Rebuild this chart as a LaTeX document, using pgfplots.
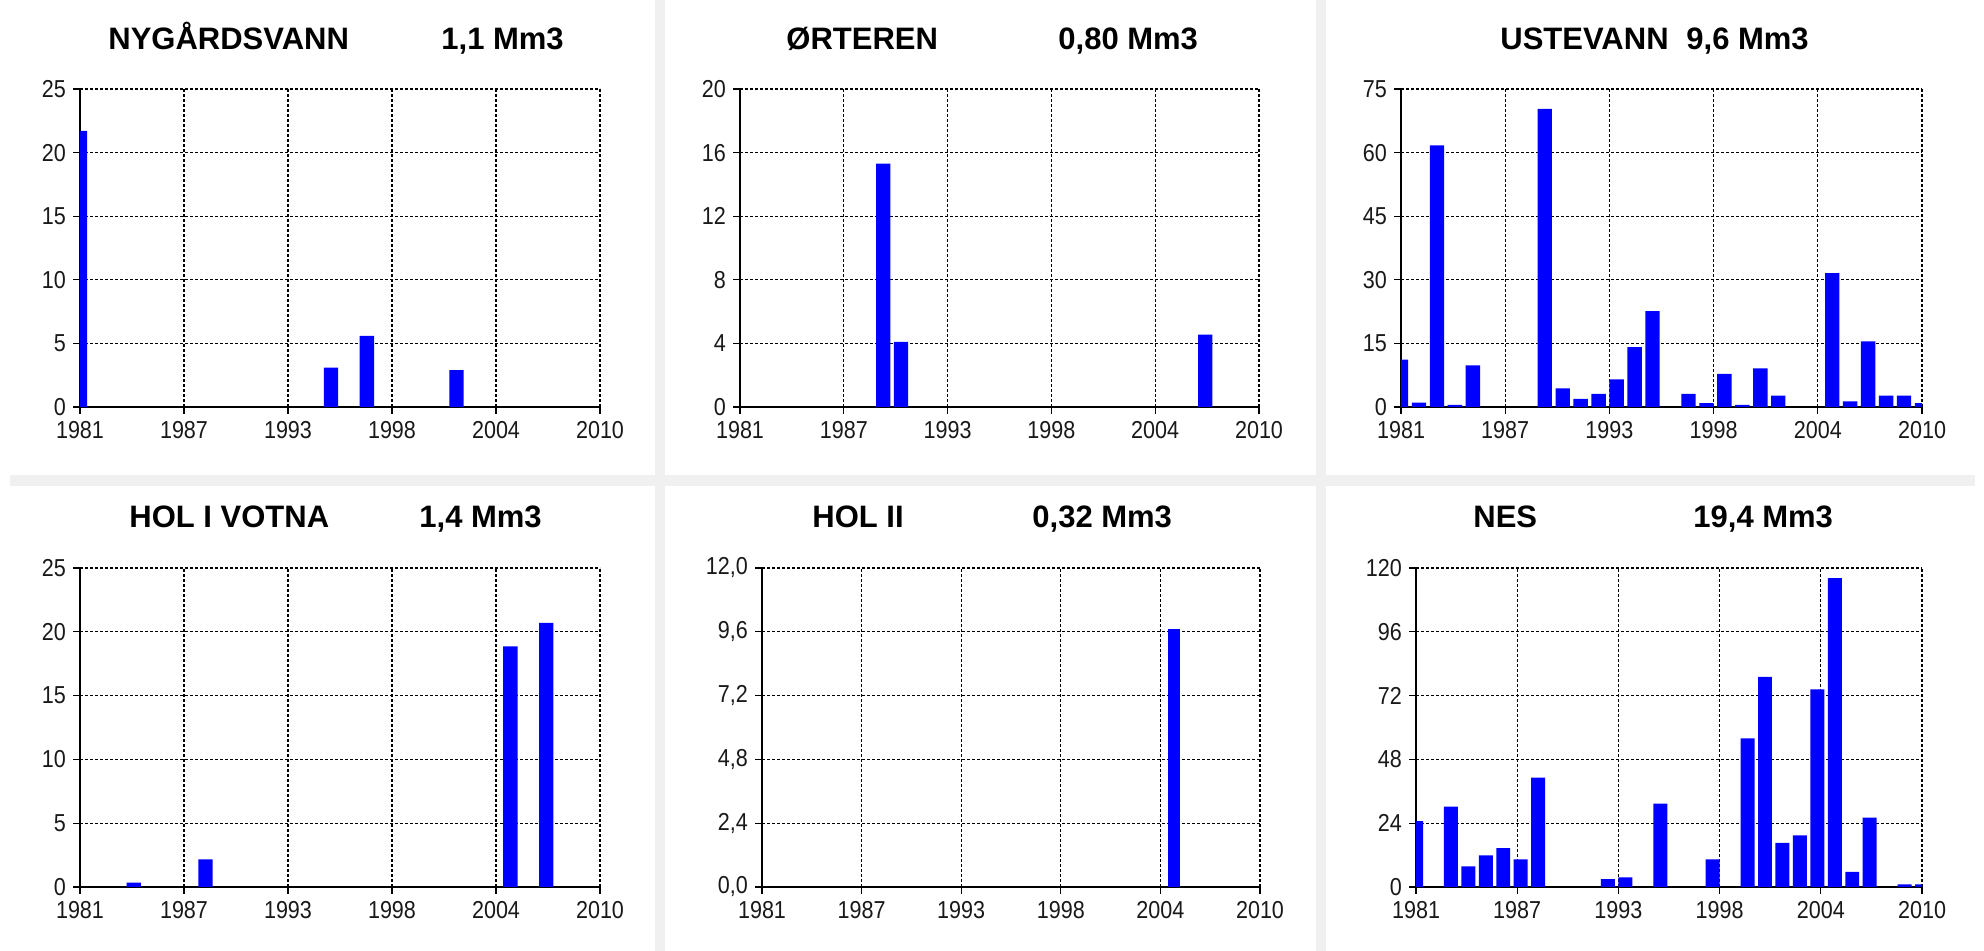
\documentclass[border=0pt]{standalone}
\usepackage{fontspec}
\setmainfont{Liberation Sans}
\newfontfamily\tickfont{Liberation Sans}[FakeStretch=0.88]
\usepackage{pgfplots}
\pgfplotsset{compat=1.18}
\definecolor{sepgray}{RGB}{240,240,240}
\definecolor{barblue}{RGB}{0,0,255}
\pgfplotsset{panel/.style={
  scale only axis, anchor=south west,
  xmin=1981, xmax=2010, ymin=0,
  axis lines=left, axis line style={-, black, line width=0.75pt},
  xtick={1981,1986.8,1992.6,1998.4,2004.2,2010},
  xticklabels={1981,1987,1993,1998,2004,2010},
  grid=major, major grid style={black, line width=0.65pt, dash pattern=on 1.7pt off 0.8pt},
  tick align=outside, major tick length=3.5pt, tick style={black, line width=0.65pt},
  ticklabel style={font=\tickfont\fontsize{12.25}{13}\selectfont, text=black!90},
  ybar, bar width=0.8,
}}
\newcommand\ttl[1]{{\bfseries\fontsize{15.5}{16}\selectfont #1}}
\begin{document}
\begin{tikzpicture}
\useasboundingbox (0,0) rectangle (992pt,475.5pt);
\fill[white] (0,0) rectangle (992pt,475.5pt);
\fill[sepgray] (327.5pt,0) rectangle (332.5pt,475.5pt);
\fill[sepgray] (658pt,0) rectangle (663pt,475.5pt);
\fill[sepgray] (5pt,232.5pt) rectangle (987.5pt,238pt);

% titles
\node[anchor=base west, inner sep=0] at (54pt,450.5pt) {\ttl{NYGÅRDSVANN}};
\node[anchor=base west, inner sep=0] at (220.5pt,450.5pt) {\ttl{1,1 Mm3}};
\node[anchor=base west, inner sep=0] at (393pt,450.5pt) {\ttl{ØRTEREN}};
\node[anchor=base west, inner sep=0] at (529pt,450.5pt) {\ttl{0,80 Mm3}};
\node[anchor=base west, inner sep=0] at (750pt,450.5pt) {\ttl{USTEVANN}};
\node[anchor=base west, inner sep=0] at (843pt,450.5pt) {\ttl{9,6 Mm3}};
\node[anchor=base west, inner sep=0] at (64.5pt,211.5pt) {\ttl{HOL I VOTNA}};
\node[anchor=base west, inner sep=0] at (209.5pt,211.5pt) {\ttl{1,4 Mm3}};
\node[anchor=base west, inner sep=0] at (406pt,211.5pt) {\ttl{HOL II}};
\node[anchor=base west, inner sep=0] at (516pt,211.5pt) {\ttl{0,32 Mm3}};
\node[anchor=base west, inner sep=0] at (736.5pt,211.5pt) {\ttl{NES}};
\node[anchor=base west, inner sep=0] at (846.5pt,211.5pt) {\ttl{19,4 Mm3}};

% NYGARDSVANN
\begin{axis}[panel, at={(40pt,272pt)}, width=260pt, height=159pt,
  ymax=25, ytick={0,5,10,15,20,25}, yticklabels={0,5,10,15,20,25}]
\addplot[fill=barblue, draw=none] coordinates {(1981,21.7) (1995,3.1) (1997,5.6) (2002,2.9)};
\end{axis}

% ORTEREN
\begin{axis}[panel, at={(370pt,272pt)}, width=259.5pt, height=159pt,
  ymax=20, ytick={0,4,8,12,16,20}, yticklabels={0,4,8,12,16,20}]
\addplot[fill=barblue, draw=none] coordinates {(1989,15.3) (1990,4.1) (2007,4.55)};
\end{axis}

% USTEVANN
\begin{axis}[panel, at={(700.5pt,272pt)}, width=260.5pt, height=159pt,
  ymax=75, ytick={0,15,30,45,60,75}, yticklabels={0,15,30,45,60,75}]
\addplot[fill=barblue, draw=none] coordinates {
 (1981,11.2) (1982,1.0) (1983,61.7) (1984,0.5) (1985,9.8)
 (1989,70.3) (1990,4.4) (1991,1.9) (1992,3.1) (1993,6.5) (1994,14.1) (1995,22.6)
 (1997,3.1) (1998,0.9) (1999,7.8) (2000,0.5) (2001,9.1) (2002,2.7)
 (2005,31.6) (2006,1.3) (2007,15.5) (2008,2.7) (2009,2.7) (2010,0.9)};
\end{axis}

% HOL I VOTNA
\begin{axis}[panel, at={(40pt,32pt)}, width=260pt, height=159.5pt,
  ymax=25, ytick={0,5,10,15,20,25}, yticklabels={0,5,10,15,20,25}]
\addplot[fill=barblue, draw=none] coordinates {(1984,0.34) (1988,2.17) (2005,18.85) (2007,20.7)};
\end{axis}

% HOL II
\begin{axis}[panel, at={(381pt,32pt)}, width=249pt, height=159.5pt, bar width=0.72,
  ymax=12, ytick={0,2.4,4.8,7.2,9.6,12}, yticklabels={{0,0},{2,4},{4,8},{7,2},{9,6},{12,0}}]
\addplot[fill=barblue, draw=none] coordinates {(2005,9.72)};
\end{axis}

% NES
\begin{axis}[panel, at={(708pt,32pt)}, width=253pt, height=159.5pt,
  ymax=120, ytick={0,24,48,72,96,120}, yticklabels={0,24,48,72,96,120}]
\addplot[fill=barblue, draw=none] coordinates {
 (1981,24.8) (1983,30.2) (1984,7.8) (1985,11.9) (1986,14.6) (1987,10.4) (1988,41.1)
 (1992,3.0) (1993,3.6) (1995,31.4) (1998,10.4)
 (2000,55.9) (2001,79.0) (2002,16.6) (2003,19.4) (2004,74.3) (2005,116.2) (2006,5.65) (2007,26.1)
 (2009,1.0) (2010,1.0)};
\end{axis}
\end{tikzpicture}
\end{document}
